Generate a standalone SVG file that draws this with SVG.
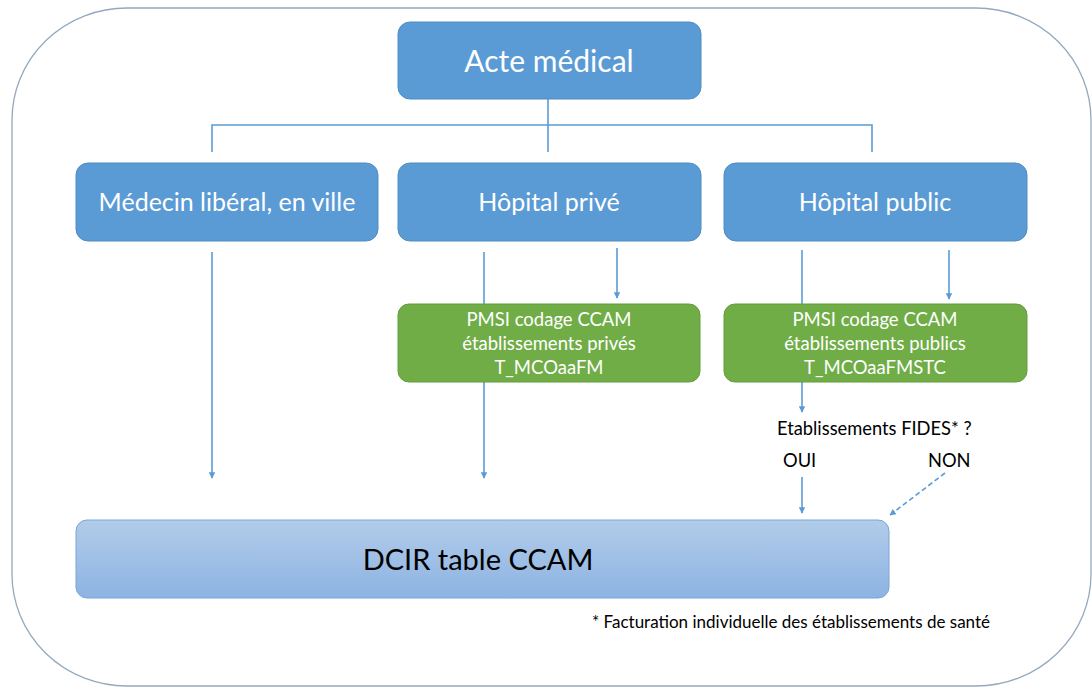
<svg xmlns="http://www.w3.org/2000/svg" width="1092" height="689" viewBox="0 0 1092 689">
<defs>
<style>
.frame{fill:#fff;stroke:#94a9bd;stroke-width:1.3}
.blue{fill:#5b9bd5;stroke:#4f8cc4;stroke-width:1}
.green{fill:#70ad47;stroke:#639c3d;stroke-width:1}
.wt{fill:#fff;font-family:Lato,"Open Sans",sans-serif;text-anchor:middle}
.bk{fill:#000;font-family:Lato,"Open Sans",sans-serif}
.ln{fill:none;stroke:#5b9bd5;stroke-width:1.6}
.ar{fill:none;stroke:#5b9bd5;stroke-width:1.6;marker-end:url(#ah)}
</style>
<marker id="ah" viewBox="0 0 10 10" refX="9" refY="5" markerWidth="4" markerHeight="4" orient="auto" markerUnits="strokeWidth">
<path d="M0,0 L10,5 L0,10 Z" fill="#5b9bd5"/>
</marker>
<linearGradient id="dg" x1="0" y1="0" x2="0" y2="1">
<stop offset="0" stop-color="#b1cce9"/>
<stop offset="1" stop-color="#8db3e2"/>
</linearGradient>
</defs>
<rect class="frame" x="12" y="8" width="1079" height="678" rx="115" ry="112"/>
<g id="connectors">
<path class="ln" d="M548,99 V152 M212,152 V125 H872 V152"/>
<path class="ar" d="M212,252 V478"/>
<path class="ar" d="M484,252 V478"/>
<path class="ar" d="M617,248 V298"/>
<path class="ln" d="M802,250 V304"/>
<path class="ar" d="M949,250 V299"/>
<path class="ar" d="M802,382 V412"/>
<path class="ar" d="M802,477 V513"/>
<path class="ar" d="M945,473 L890,515" stroke-dasharray="5,3"/>
</g>
<g id="acte">
<rect class="blue" x="398" y="22" width="303" height="77" rx="12"/>
<text class="wt" x="549" y="72" font-size="30">Acte médical</text>
</g>
<g id="medecin">
<rect class="blue" x="76" y="163" width="302" height="78" rx="12"/>
<text class="wt" x="227" y="211" font-size="25">Médecin libéral, en ville</text>
</g>
<g id="prive">
<rect class="blue" x="398" y="163" width="303" height="78" rx="12"/>
<text class="wt" x="549" y="211" font-size="25">Hôpital privé</text>
</g>
<g id="public">
<rect class="blue" x="724" y="163" width="303" height="78" rx="12"/>
<text class="wt" x="875" y="211" font-size="25">Hôpital public</text>
</g>
<g id="pmsi-prive">
<rect class="green" x="398" y="304" width="302" height="78" rx="11"/>
<text class="wt" x="549" y="326" font-size="18.5">PMSI codage CCAM</text>
<text class="wt" x="549" y="350" font-size="18.5">établissements privés</text>
<text class="wt" x="549" y="374" font-size="18.5">T_MCOaaFM</text>
</g>
<g id="pmsi-public">
<rect class="green" x="724" y="304" width="303" height="78" rx="11"/>
<text class="wt" x="875" y="326" font-size="18.5">PMSI codage CCAM</text>
<text class="wt" x="875" y="350" font-size="18.5">établissements publics</text>
<text class="wt" x="875" y="374" font-size="18.5">T_MCOaaFMSTC</text>
</g>
<g id="fides">
<text class="bk" x="777" y="435" font-size="18.3">Etablissements FIDES* ?</text>
<text class="bk" x="783" y="467" font-size="18.3">OUI</text>
<text class="bk" x="928" y="467" font-size="18.3">NON</text>
</g>
<g id="dcir">
<rect x="76" y="520" width="813" height="78" rx="11" fill="url(#dg)" stroke="#7ba5d6" stroke-width="1"/>
<text class="bk" x="478" y="570" font-size="29" text-anchor="middle">DCIR table CCAM</text>
</g>
<g id="note">
<text class="bk" x="592" y="628" font-size="17">* Facturation individuelle des établissements de santé</text>
</g>
</svg>
